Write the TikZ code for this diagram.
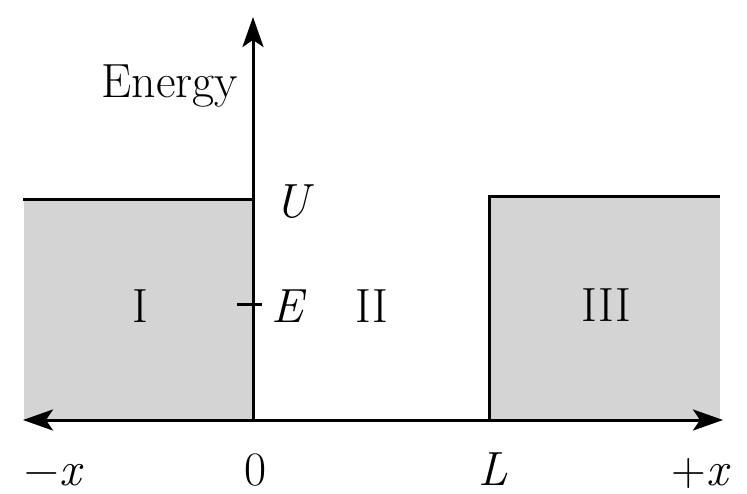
\documentclass[tikz,border=0pt]{standalone}
\usepackage{fontspec}
\usetikzlibrary{arrows.meta}
\tikzset{
  axisline/.style={line width=3pt, -{Stealth[length=30pt,width=21pt,inset=7pt]}},
  wall/.style={line width=3pt},
  barrier/.style={fill=black!17, draw=none},
  lbl/.style={anchor=base, inner sep=0pt, font=\fontsize{48}{56}\selectfont},
}
\begin{document}
\begin{tikzpicture}[x=1pt,y=-1pt]
\useasboundingbox (0,0) rectangle (747,494);
% coordinates
\coordinate (O) at (253,420);
\coordinate (Ytop) at (253,17);
\coordinate (Xleft) at (23,420);
\coordinate (Xright) at (723,420);
\coordinate (LTopL) at (23,200);
\coordinate (LTopR) at (253,200);
\coordinate (RBase) at (489,420);
\coordinate (RTopL) at (489,197);
\coordinate (RTopR) at (720,197);
\coordinate (TickL) at (237,305);
\coordinate (TickR) at (262,305);
% barriers
\fill[barrier] (24,200) rectangle (O);
\fill[barrier] (RTopL) rectangle (720,420);
% walls
\draw[wall] (LTopL) -- (LTopR);
\draw[wall] (RBase) -- (RTopL) -- (RTopR);
\draw[wall] (TickL) -- (TickR);
% axes
\draw[axisline] (O) -- (Ytop);
\draw[axisline] (O) -- (Xleft);
\draw[axisline] (O) -- (Xright);
% labels
\node[lbl] (energy) at (170,98) {Energy};
\node[lbl, anchor=base west] (U) at (274,218) {\textit{U}};
\node[lbl, anchor=base west] (E) at (271,323) {\textit{E}};
\node[lbl] (r1) at (140,323) {I};
\node[lbl] (r2) at (372,323) {II};
\node[lbl] (r3) at (606,322) {III};
\node[lbl] (zero) at (256,485) {0};
\node[lbl] (mx) at (54,485) {−\textit{x}};
\node[lbl] (L) at (493,485) {\textit{L}};
\node[lbl] (px) at (701,485) {+\textit{x}};
\end{tikzpicture}
\end{document}
